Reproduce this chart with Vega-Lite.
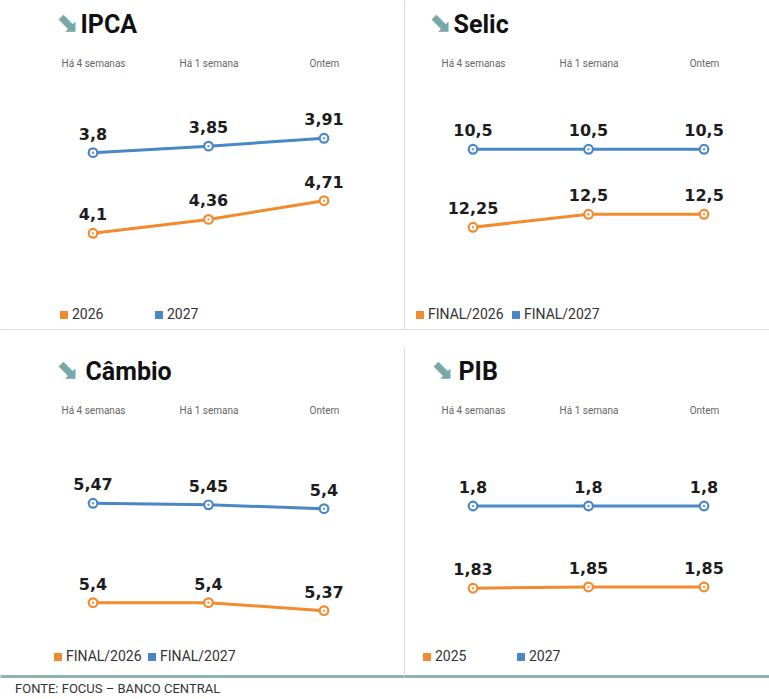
{
  "$schema": "https://vega.github.io/schema/vega-lite/v6.json",
  "background": "white",
  "padding": 0,
  "data": {"values": [
    {"painel": "IPCA", "serie": "2026", "semana": "Há 4 semanas", "valor": 4.1},
    {"painel": "IPCA", "serie": "2026", "semana": "Há 1 semana", "valor": 4.36},
    {"painel": "IPCA", "serie": "2026", "semana": "Ontem", "valor": 4.71},
    {"painel": "IPCA", "serie": "2027", "semana": "Há 4 semanas", "valor": 3.8},
    {"painel": "IPCA", "serie": "2027", "semana": "Há 1 semana", "valor": 3.85},
    {"painel": "IPCA", "serie": "2027", "semana": "Ontem", "valor": 3.91},
    {"painel": "Selic", "serie": "FINAL/2026", "semana": "Há 4 semanas", "valor": 12.25},
    {"painel": "Selic", "serie": "FINAL/2026", "semana": "Há 1 semana", "valor": 12.5},
    {"painel": "Selic", "serie": "FINAL/2026", "semana": "Ontem", "valor": 12.5},
    {"painel": "Selic", "serie": "FINAL/2027", "semana": "Há 4 semanas", "valor": 10.5},
    {"painel": "Selic", "serie": "FINAL/2027", "semana": "Há 1 semana", "valor": 10.5},
    {"painel": "Selic", "serie": "FINAL/2027", "semana": "Ontem", "valor": 10.5},
    {"painel": "Câmbio", "serie": "FINAL/2026", "semana": "Há 4 semanas", "valor": 5.4},
    {"painel": "Câmbio", "serie": "FINAL/2026", "semana": "Há 1 semana", "valor": 5.4},
    {"painel": "Câmbio", "serie": "FINAL/2026", "semana": "Ontem", "valor": 5.37},
    {"painel": "Câmbio", "serie": "FINAL/2027", "semana": "Há 4 semanas", "valor": 5.47},
    {"painel": "Câmbio", "serie": "FINAL/2027", "semana": "Há 1 semana", "valor": 5.45},
    {"painel": "Câmbio", "serie": "FINAL/2027", "semana": "Ontem", "valor": 5.4},
    {"painel": "PIB", "serie": "2025", "semana": "Há 4 semanas", "valor": 1.83},
    {"painel": "PIB", "serie": "2025", "semana": "Há 1 semana", "valor": 1.85},
    {"painel": "PIB", "serie": "2025", "semana": "Ontem", "valor": 1.85},
    {"painel": "PIB", "serie": "2027", "semana": "Há 4 semanas", "valor": 1.8},
    {"painel": "PIB", "serie": "2027", "semana": "Há 1 semana", "valor": 1.8},
    {"painel": "PIB", "serie": "2027", "semana": "Ontem", "valor": 1.8}
  ]},
  "title": {"text": "FONTE: FOCUS – BANCO CENTRAL", "orient": "bottom", "anchor": "start", "fontSize": 13, "font": "Liberation Sans Narrow, Roboto", "fontWeight": "normal", "color": "#333", "offset": 7, "dx": 15},
  "spacing": 18,
  "resolve": {"scale": {"color": "independent"}, "legend": {"color": "independent"}},
  "vconcat": [
    {
      "spacing": 0,
      "resolve": {"scale": {"color": "independent"}, "legend": {"color": "independent"}},
      "hconcat": [
        {
          "width": 404, "height": 329,
          "transform": [{"filter": "datum.painel === 'IPCA'"}],
          "resolve": {"scale": {"y": "independent"}, "axis": {"x": "independent", "y": "independent"}},
          "layer": [
            {
              "transform": [{"filter": "datum.serie === '2026'"}],
              "encoding": {
                "x": {"field": "semana", "type": "nominal", "sort": ["Há 4 semanas", "Há 1 semana", "Ontem"], "scale": {"type": "point", "padding": 0.749, "align": 0.5376},
                  "axis": {"orient": "top", "offset": -70, "domain": false, "ticks": false, "grid": false, "labelPadding": 2, "labelFontSize": 10, "labelFont": "Roboto", "labelColor": "#666", "labelAngle": 0, "title": "⬊", "titleX": 66, "titleY": -48, "titleAlign": "center", "titleBaseline": "middle", "titleAngle": 0, "titleFont": "DejaVu Sans", "titleFontSize": 27, "titleColor": "#78a9a9", "titleFontWeight": "bold"}},
                "y": {"field": "valor", "type": "quantitative", "scale": {"domain": [2.309, 8.4656], "zero": false, "nice": false}, "axis": null},
                "color": {"field": "serie", "type": "nominal", "scale": {"domain": ["2026", "2027"], "range": ["#f28a2e", "#4a87c6"]},
                  "legend": {"orient": "none", "legendX": 57, "legendY": 308, "direction": "horizontal", "title": null, "symbolType": "square", "symbolSize": 16, "symbolStrokeWidth": 4, "symbolOpacity": 1, "labelFontSize": 14, "labelFont": "Liberation Sans Narrow, Roboto", "labelColor": "#333", "columnPadding": 45, "labelOffset": 1, "padding": 0}}
              },
              "layer": [
                {"mark": {"type": "line", "strokeWidth": 3}},
                {"mark": {"type": "point", "filled": false, "fill": "white", "strokeWidth": 2.2, "size": 75, "opacity": 1}},
                {"mark": {"type": "circle", "size": 6, "opacity": 0.8}},
                {"mark": {"type": "text", "dy": -13, "fontSize": 16, "font": "DejaVu Sans", "fontWeight": "bold", "baseline": "alphabetic"},
                  "encoding": {"text": {"field": "valor", "type": "quantitative", "format": ".2~f"}, "color": {"value": "#1d1d1d"}}}
              ]
            },
            {
              "transform": [{"filter": "datum.serie === '2027'"}],
              "encoding": {
                "x": {"field": "semana", "type": "nominal", "sort": ["Há 4 semanas", "Há 1 semana", "Ontem"], "scale": {"type": "point", "padding": 0.749, "align": 0.5376},
                  "axis": {"orient": "bottom", "labels": false, "ticks": false, "grid": false, "domain": true, "domainColor": "#dcdcdc", "domainWidth": 1, "title": "IPCA", "titleX": 80, "titleY": -297, "titleAlign": "left", "titleBaseline": "alphabetic", "titleAngle": 0, "titleFont": "Roboto", "titleFontSize": 25, "titleFontWeight": "bold", "titleColor": "#111"}},
                "y": {"field": "valor", "type": "quantitative", "scale": {"domain": [2.453, 4.9665], "zero": false, "nice": false},
                  "axis": {"orient": "right", "labels": false, "ticks": false, "grid": false, "domain": true, "domainColor": "#dcdcdc", "domainWidth": 1, "title": null}},
                "color": {"field": "serie", "type": "nominal", "scale": {"domain": ["2026", "2027"], "range": ["#f28a2e", "#4a87c6"]},
                  "legend": {"orient": "none", "legendX": 57, "legendY": 308, "direction": "horizontal", "title": null, "symbolType": "square", "symbolSize": 16, "symbolStrokeWidth": 4, "symbolOpacity": 1, "labelFontSize": 14, "labelFont": "Liberation Sans Narrow, Roboto", "labelColor": "#333", "columnPadding": 45, "labelOffset": 1, "padding": 0}}
              },
              "layer": [
                {"mark": {"type": "line", "strokeWidth": 3}},
                {"mark": {"type": "point", "filled": false, "fill": "white", "strokeWidth": 2.2, "size": 75, "opacity": 1}},
                {"mark": {"type": "circle", "size": 6, "opacity": 0.8}},
                {"mark": {"type": "text", "dy": -13, "fontSize": 16, "font": "DejaVu Sans", "fontWeight": "bold", "baseline": "alphabetic"},
                  "encoding": {"text": {"field": "valor", "type": "quantitative", "format": ".2~f"}, "color": {"value": "#1d1d1d"}}}
              ]
            }
          ]
        },
        {
          "width": 365, "height": 329,
          "transform": [{"filter": "datum.painel === 'Selic'"}],
          "resolve": {"scale": {"y": "independent"}, "axis": {"x": "independent", "y": "independent"}},
          "layer": [
            {
              "transform": [{"filter": "datum.serie === 'FINAL/2026'"}],
              "encoding": {
                "x": {"field": "semana", "type": "nominal", "sort": ["Há 4 semanas", "Há 1 semana", "Ontem"], "scale": {"type": "point", "padding": 0.58, "align": 0.515},
                  "axis": {"orient": "top", "offset": -70, "domain": false, "ticks": false, "grid": false, "labelPadding": 2, "labelFontSize": 10, "labelFont": "Roboto", "labelColor": "#666", "labelAngle": 0, "title": "⬊", "titleX": 35, "titleY": -48, "titleAlign": "center", "titleBaseline": "middle", "titleAngle": 0, "titleFont": "DejaVu Sans", "titleFontSize": 27, "titleColor": "#78a9a9", "titleFontWeight": "bold"}},
                "y": {"field": "valor", "type": "quantitative", "scale": {"domain": [10.294, 16.621], "zero": false, "nice": false}, "axis": null},
                "color": {"field": "serie", "type": "nominal", "scale": {"domain": ["FINAL/2026", "FINAL/2027"], "range": ["#f28a2e", "#4a87c6"]},
                  "legend": {"orient": "none", "legendX": 9, "legendY": 308, "direction": "horizontal", "title": null, "symbolType": "square", "symbolSize": 16, "symbolStrokeWidth": 4, "symbolOpacity": 1, "labelFontSize": 14, "labelFont": "Liberation Sans Narrow, Roboto", "labelColor": "#333", "columnPadding": 2, "labelOffset": 1, "padding": 0}}
              },
              "layer": [
                {"mark": {"type": "line", "strokeWidth": 3}},
                {"mark": {"type": "point", "filled": false, "fill": "white", "strokeWidth": 2.2, "size": 75, "opacity": 1}},
                {"mark": {"type": "circle", "size": 6, "opacity": 0.8}},
                {"mark": {"type": "text", "dy": -13, "fontSize": 16, "font": "DejaVu Sans", "fontWeight": "bold", "baseline": "alphabetic"},
                  "encoding": {"text": {"field": "valor", "type": "quantitative", "format": ".2~f"}, "color": {"value": "#1d1d1d"}}}
              ]
            },
            {
              "transform": [{"filter": "datum.serie === 'FINAL/2027'"}],
              "encoding": {
                "x": {"field": "semana", "type": "nominal", "sort": ["Há 4 semanas", "Há 1 semana", "Ontem"], "scale": {"type": "point", "padding": 0.58, "align": 0.515},
                  "axis": {"orient": "bottom", "labels": false, "ticks": false, "grid": false, "domain": true, "domainColor": "#dcdcdc", "domainWidth": 1, "title": "Selic", "titleX": 49, "titleY": -297, "titleAlign": "left", "titleBaseline": "alphabetic", "titleAngle": 0, "titleFont": "Roboto", "titleFontSize": 25, "titleFontWeight": "bold", "titleColor": "#111"}},
                "y": {"field": "valor", "type": "quantitative", "scale": {"domain": [8.703, 11.993], "zero": false, "nice": false}, "axis": null},
                "color": {"field": "serie", "type": "nominal", "scale": {"domain": ["FINAL/2026", "FINAL/2027"], "range": ["#f28a2e", "#4a87c6"]},
                  "legend": {"orient": "none", "legendX": 9, "legendY": 308, "direction": "horizontal", "title": null, "symbolType": "square", "symbolSize": 16, "symbolStrokeWidth": 4, "symbolOpacity": 1, "labelFontSize": 14, "labelFont": "Liberation Sans Narrow, Roboto", "labelColor": "#333", "columnPadding": 2, "labelOffset": 1, "padding": 0}}
              },
              "layer": [
                {"mark": {"type": "line", "strokeWidth": 3}},
                {"mark": {"type": "point", "filled": false, "fill": "white", "strokeWidth": 2.2, "size": 75, "opacity": 1}},
                {"mark": {"type": "circle", "size": 6, "opacity": 0.8}},
                {"mark": {"type": "text", "dy": -13, "fontSize": 16, "font": "DejaVu Sans", "fontWeight": "bold", "baseline": "alphabetic"},
                  "encoding": {"text": {"field": "valor", "type": "quantitative", "format": ".2~f"}, "color": {"value": "#1d1d1d"}}}
              ]
            }
          ]
        }
      ]
    },
    {
      "spacing": 0,
      "resolve": {"scale": {"color": "independent"}, "legend": {"color": "independent"}},
      "hconcat": [
        {
          "width": 404, "height": 329,
          "transform": [{"filter": "datum.painel === 'Câmbio'"}],
          "resolve": {"scale": {"y": "independent"}, "axis": {"x": "independent", "y": "independent"}},
          "layer": [
            {
              "transform": [{"filter": "datum.serie === 'FINAL/2026'"}],
              "encoding": {
                "x": {"field": "semana", "type": "nominal", "sort": ["Há 4 semanas", "Há 1 semana", "Ontem"], "scale": {"type": "point", "padding": 0.749, "align": 0.5376},
                  "axis": {"orient": "top", "offset": -70, "domain": false, "ticks": false, "grid": false, "labelPadding": 2, "labelFontSize": 10, "labelFont": "Roboto", "labelColor": "#666", "labelAngle": 0, "title": "⬊", "titleX": 66, "titleY": -48, "titleAlign": "center", "titleBaseline": "middle", "titleAngle": 0, "titleFont": "DejaVu Sans", "titleFontSize": 27, "titleColor": "#78a9a9", "titleFontWeight": "bold"}},
                "y": {"field": "valor", "type": "quantitative", "scale": {"domain": [5.125, 6.359], "zero": false, "nice": false}, "axis": null},
                "color": {"field": "serie", "type": "nominal", "scale": {"domain": ["FINAL/2026", "FINAL/2027"], "range": ["#f28a2e", "#4a87c6"]},
                  "legend": {"orient": "none", "legendX": 51, "legendY": 303, "direction": "horizontal", "title": null, "symbolType": "square", "symbolSize": 16, "symbolStrokeWidth": 4, "symbolOpacity": 1, "labelFontSize": 14, "labelFont": "Liberation Sans Narrow, Roboto", "labelColor": "#333", "columnPadding": 0, "labelOffset": 1, "padding": 0}}
              },
              "layer": [
                {"mark": {"type": "line", "strokeWidth": 3}},
                {"mark": {"type": "point", "filled": false, "fill": "white", "strokeWidth": 2.2, "size": 75, "opacity": 1}},
                {"mark": {"type": "circle", "size": 6, "opacity": 0.8}},
                {"mark": {"type": "text", "dy": -13, "fontSize": 16, "font": "DejaVu Sans", "fontWeight": "bold", "baseline": "alphabetic"},
                  "encoding": {"text": {"field": "valor", "type": "quantitative", "format": ".2~f"}, "color": {"value": "#1d1d1d"}}}
              ]
            },
            {
              "transform": [{"filter": "datum.serie === 'FINAL/2027'"}],
              "encoding": {
                "x": {"field": "semana", "type": "nominal", "sort": ["Há 4 semanas", "Há 1 semana", "Ontem"], "scale": {"type": "point", "padding": 0.749, "align": 0.5376},
                  "axis": {"orient": "bottom", "labels": false, "ticks": false, "grid": false, "domain": true, "domainColor": "#8db3b3", "domainWidth": 3, "title": "Câmbio", "titleX": 85, "titleY": -297, "titleAlign": "left", "titleBaseline": "alphabetic", "titleAngle": 0, "titleFont": "Roboto", "titleFontSize": 25, "titleFontWeight": "bold", "titleColor": "#111"}},
                "y": {"field": "valor", "type": "quantitative", "scale": {"domain": [3.227, 7.5], "zero": false, "nice": false},
                  "axis": {"orient": "right", "labels": false, "ticks": false, "grid": false, "domain": true, "domainColor": "#dcdcdc", "domainWidth": 1, "title": null}},
                "color": {"field": "serie", "type": "nominal", "scale": {"domain": ["FINAL/2026", "FINAL/2027"], "range": ["#f28a2e", "#4a87c6"]},
                  "legend": {"orient": "none", "legendX": 51, "legendY": 303, "direction": "horizontal", "title": null, "symbolType": "square", "symbolSize": 16, "symbolStrokeWidth": 4, "symbolOpacity": 1, "labelFontSize": 14, "labelFont": "Liberation Sans Narrow, Roboto", "labelColor": "#333", "columnPadding": 0, "labelOffset": 1, "padding": 0}}
              },
              "layer": [
                {"mark": {"type": "line", "strokeWidth": 3}},
                {"mark": {"type": "point", "filled": false, "fill": "white", "strokeWidth": 2.2, "size": 75, "opacity": 1}},
                {"mark": {"type": "circle", "size": 6, "opacity": 0.8}},
                {"mark": {"type": "text", "dy": -13, "fontSize": 16, "font": "DejaVu Sans", "fontWeight": "bold", "baseline": "alphabetic"},
                  "encoding": {"text": {"field": "valor", "type": "quantitative", "format": ".2~f"}, "color": {"value": "#1d1d1d"}}}
              ]
            }
          ]
        },
        {
          "width": 365, "height": 329,
          "transform": [{"filter": "datum.painel === 'PIB'"}],
          "resolve": {"scale": {"y": "independent"}, "axis": {"x": "independent", "y": "independent"}},
          "layer": [
            {
              "transform": [{"filter": "datum.serie === '2025'"}],
              "encoding": {
                "x": {"field": "semana", "type": "nominal", "sort": ["Há 4 semanas", "Há 1 semana", "Ontem"], "scale": {"type": "point", "padding": 0.58, "align": 0.515},
                  "axis": {"orient": "top", "offset": -70, "domain": false, "ticks": false, "grid": false, "labelPadding": 2, "labelFontSize": 10, "labelFont": "Roboto", "labelColor": "#666", "labelAngle": 0, "title": "⬊", "titleX": 37, "titleY": -48, "titleAlign": "center", "titleBaseline": "middle", "titleAngle": 0, "titleFont": "DejaVu Sans", "titleFontSize": 27, "titleColor": "#78a9a9", "titleFontWeight": "bold"}},
                "y": {"field": "valor", "type": "quantitative", "scale": {"domain": [0.48, 5.542], "zero": false, "nice": false}, "axis": null},
                "color": {"field": "serie", "type": "nominal", "scale": {"domain": ["2025", "2027"], "range": ["#f28a2e", "#4a87c6"]},
                  "legend": {"orient": "none", "legendX": 16, "legendY": 303, "direction": "horizontal", "title": null, "symbolType": "square", "symbolSize": 16, "symbolStrokeWidth": 4, "symbolOpacity": 1, "labelFontSize": 14, "labelFont": "Liberation Sans Narrow, Roboto", "labelColor": "#333", "columnPadding": 44, "labelOffset": 1, "padding": 0}}
              },
              "layer": [
                {"mark": {"type": "line", "strokeWidth": 3}},
                {"mark": {"type": "point", "filled": false, "fill": "white", "strokeWidth": 2.2, "size": 75, "opacity": 1}},
                {"mark": {"type": "circle", "size": 6, "opacity": 0.8}},
                {"mark": {"type": "text", "dy": -13, "fontSize": 16, "font": "DejaVu Sans", "fontWeight": "bold", "baseline": "alphabetic"},
                  "encoding": {"text": {"field": "valor", "type": "quantitative", "format": ".2~f"}, "color": {"value": "#1d1d1d"}}}
              ]
            },
            {
              "transform": [{"filter": "datum.serie === '2027'"}],
              "encoding": {
                "x": {"field": "semana", "type": "nominal", "sort": ["Há 4 semanas", "Há 1 semana", "Ontem"], "scale": {"type": "point", "padding": 0.58, "align": 0.515},
                  "axis": {"orient": "bottom", "labels": false, "ticks": false, "grid": false, "domain": true, "domainColor": "#8db3b3", "domainWidth": 3, "title": "PIB", "titleX": 54, "titleY": -297, "titleAlign": "left", "titleBaseline": "alphabetic", "titleAngle": 0, "titleFont": "Roboto", "titleFontSize": 25, "titleFontWeight": "bold", "titleColor": "#111"}},
                "y": {"field": "valor", "type": "quantitative", "scale": {"domain": [0.1, 3.39], "zero": false, "nice": false}, "axis": null},
                "color": {"field": "serie", "type": "nominal", "scale": {"domain": ["2025", "2027"], "range": ["#f28a2e", "#4a87c6"]},
                  "legend": {"orient": "none", "legendX": 16, "legendY": 303, "direction": "horizontal", "title": null, "symbolType": "square", "symbolSize": 16, "symbolStrokeWidth": 4, "symbolOpacity": 1, "labelFontSize": 14, "labelFont": "Liberation Sans Narrow, Roboto", "labelColor": "#333", "columnPadding": 44, "labelOffset": 1, "padding": 0}}
              },
              "layer": [
                {"mark": {"type": "line", "strokeWidth": 3}},
                {"mark": {"type": "point", "filled": false, "fill": "white", "strokeWidth": 2.2, "size": 75, "opacity": 1}},
                {"mark": {"type": "circle", "size": 6, "opacity": 0.8}},
                {"mark": {"type": "text", "dy": -13, "fontSize": 16, "font": "DejaVu Sans", "fontWeight": "bold", "baseline": "alphabetic"},
                  "encoding": {"text": {"field": "valor", "type": "quantitative", "format": ".2~f"}, "color": {"value": "#1d1d1d"}}}
              ]
            }
          ]
        }
      ]
    }
  ],
  "config": {
    "view": {"stroke": null},
    "axis": {"grid": false},
    "locale": {"number": {"decimal": ",", "thousands": ".", "grouping": [3], "currency": ["R$ ", ""]}}
  }
}
